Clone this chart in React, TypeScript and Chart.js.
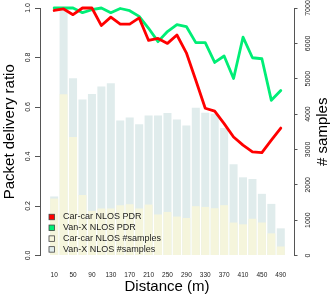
import React, { useEffect, useRef } from "react";
import { Chart, registerables } from "chart.js";

Chart.register(...registerables);

const FONT = '"Liberation Sans", Arial, Helvetica, sans-serif';

const distances = [10, 30, 50, 70, 90, 110, 130, 150, 170, 190, 210, 230, 250, 270, 290, 310, 330, 350, 370, 390, 410, 430, 450, 470, 490];
const carPdr = [0.99, 0.996, 0.973, 1.0, 1.0, 0.929, 0.963, 0.935, 0.935, 0.96, 0.869, 0.877, 0.857, 0.891, 0.819, 0.708, 0.595, 0.583, 0.533, 0.479, 0.446, 0.419, 0.416, 0.466, 0.515];
const vanPdr = [1.0, 1.0, 1.0, 0.981, 0.993, 1.0, 0.981, 0.998, 0.989, 0.966, 0.918, 0.864, 0.905, 0.933, 0.925, 0.86, 0.86, 0.78, 0.806, 0.715, 0.882, 0.799, 0.795, 0.627, 0.667];
const carSamples = [1610, 4560, 3350, 1710, 1260, 1330, 1330, 1420, 1450, 1330, 1440, 1160, 1232, 1101, 1061, 1394, 1374, 1337, 1423, 931, 882, 1039, 933, 626, 256];
const vanSamples = [1670, 6990, 5010, 4410, 4570, 4780, 4870, 3820, 3900, 3710, 3960, 3960, 4030, 3850, 3680, 4180, 4040, 4010, 3606, 2581, 2211, 2163, 1744, 1460, 768];
const xTickValues = [10, 50, 90, 130, 170, 210, 250, 290, 330, 370, 410, 450, 490];
const pdrTicks = [0, 0.2, 0.4, 0.6, 0.8, 1.0];
const sampleTicks = [0, 1000, 2000, 3000, 4000, 5000, 6000, 7000];

const seriesLabels = ["Car-car NLOS PDR", "Van-X NLOS PDR", "Car-car NLOS #samples", "Van-X NLOS #samples"];
const seriesColors = ["#FF0000", "#00EE76", "#F5F5DC", "#E0ECEC"];

const decorations = {
  id: "decorations",
  afterDatasetsDraw(chart: any) {
    const { ctx, chartArea } = chart;
    const yL = chart.scales.y;
    const yR = chart.scales.y2;
    ctx.save();
    // y tick labels (rotated)
    ctx.fillStyle = "#222";
    ctx.font = `7px ${FONT}`;
    ctx.textAlign = "center";
    ctx.textBaseline = "middle";
    for (const v of pdrTicks) {
      const py = yL.getPixelForValue(v);
      ctx.save();
      ctx.translate(chartArea.left - 11.5, py);
      ctx.rotate(-Math.PI / 2);
      ctx.fillText(v.toFixed(1), 0, 0);
      ctx.restore();
    }
    for (const v of sampleTicks) {
      const py = yR.getPixelForValue(v);
      ctx.save();
      ctx.translate(chartArea.right + 14, py);
      ctx.rotate(-Math.PI / 2);
      ctx.fillText(String(v), 0, 0);
      ctx.restore();
    }
    // right title
    ctx.fillStyle = "#000";
    ctx.font = `15px ${FONT}`;
    ctx.save();
    ctx.translate(chartArea.right + 29, (chartArea.top + chartArea.bottom) / 2);
    ctx.rotate(-Math.PI / 2);
    ctx.fillText("# samples", 0, 0);
    ctx.restore();
    // legend
    const rowOffsets = [38.5, 27.7, 16.9, 6.1];
    ctx.font = `9px ${FONT}`;
    ctx.textAlign = "left";
    seriesLabels.forEach((lab, i) => {
      const cy = chartArea.bottom - rowOffsets[i];
      const bx = chartArea.left + 9;
      ctx.fillStyle = seriesColors[i];
      ctx.fillRect(bx, cy - 2.75, 5.5, 5.5);
      ctx.strokeStyle = "#444";
      ctx.lineWidth = 0.8;
      ctx.strokeRect(bx, cy - 2.75, 5.5, 5.5);
      ctx.fillStyle = "#222";
      ctx.fillText(lab, chartArea.left + 23, cy);
    });
    ctx.restore();
  },
};

export default function App() {
  const ref = useRef<HTMLCanvasElement>(null);
  useEffect(() => {
    document.body.style.margin = "0";
    document.body.style.overflow = "hidden";
    const pts = (ys: number[]) => distances.map((d, i) => ({ x: d, y: ys[i] }));
    const chart = new Chart(ref.current as HTMLCanvasElement, {
      type: "bar",
      data: {
        datasets: [
          {
            type: "line",
            label: seriesLabels[0],
            data: pts(carPdr),
            borderColor: seriesColors[0],
            borderWidth: 2.8,
            pointRadius: 0,
            tension: 0,
            yAxisID: "y",
            xAxisID: "x",
            clip: false,
            order: 0,
            borderJoinStyle: "round",
            borderCapStyle: "round",
          } as any,
          {
            type: "line",
            label: seriesLabels[1],
            data: pts(vanPdr),
            borderColor: seriesColors[1],
            borderWidth: 2.8,
            pointRadius: 0,
            tension: 0,
            yAxisID: "y",
            xAxisID: "x",
            clip: false,
            order: 1,
            borderJoinStyle: "round",
            borderCapStyle: "round",
          } as any,
          {
            type: "bar",
            label: seriesLabels[2],
            data: pts(carSamples),
            backgroundColor: seriesColors[2],
            borderWidth: 0,
            yAxisID: "y2",
            xAxisID: "x",
            grouped: false,
            barPercentage: 0.85,
            categoryPercentage: 1,
            clip: false,
            order: 2,
          } as any,
          {
            type: "bar",
            label: seriesLabels[3],
            data: pts(vanSamples),
            backgroundColor: seriesColors[3],
            borderWidth: 0,
            yAxisID: "y2",
            xAxisID: "x",
            grouped: false,
            barPercentage: 0.85,
            categoryPercentage: 1,
            clip: false,
            order: 3,
          } as any,
        ],
      },
      options: {
        responsive: false,
        animation: false,
        devicePixelRatio: 1,
        layout: { padding: { top: 8, left: 0, right: 0, bottom: 0 } },
        plugins: { legend: { display: false }, tooltip: { enabled: false } },
        scales: {
          x: {
            type: "linear",
            min: -20,
            max: 518,
            offset: false,
            afterFit: (s: any) => { s.height = 41.5; },
            afterBuildTicks: (s: any) => { s.ticks = xTickValues.map((v) => ({ value: v })); },
            grid: { display: false, drawTicks: false, offset: false },
            border: { display: false },
            ticks: {
              autoSkip: false,
              maxRotation: 0,
              minRotation: 0,
              padding: 15.6,
              color: "#222",
              font: { size: 6.5, family: FONT },
              callback: (v: any) => String(v),
            },
            title: { display: true, text: "Distance (m)", color: "#000", font: { size: 15, family: FONT }, padding: { top: 0, bottom: 1 } },
          },
          y: {
            type: "linear",
            position: "left",
            min: 0,
            max: 1,
            afterFit: (s: any) => { s.width = 40; },
            afterBuildTicks: (s: any) => { s.ticks = pdrTicks.map((v) => ({ value: v })); },
            grid: { display: true, drawOnChartArea: false, drawTicks: true, tickLength: 5, color: "#555" },
            border: { display: true, color: "#555", width: 1 },
            ticks: { display: false },
            title: { display: true, text: "Packet delivery ratio", color: "#000", font: { size: 15, family: FONT }, padding: { top: 1, bottom: 0 } },
          },
          y2: {
            type: "linear",
            position: "right",
            min: 0,
            max: 7000,
            afterFit: (s: any) => { s.width = 38; },
            afterBuildTicks: (s: any) => { s.ticks = sampleTicks.map((v) => ({ value: v })); },
            grid: { display: true, drawOnChartArea: false, drawTicks: true, tickLength: 3.5, color: "#555" },
            border: { display: true, color: "#555", width: 1 },
            ticks: { display: false },
            title: { display: false },
          },
        },
      } as any,
      plugins: [decorations],
    });
    return () => chart.destroy();
  }, []);
  return (
    <div style={{ width: 332, height: 297 }}>
      <canvas ref={ref} width={332} height={297} style={{ display: "block" }} />
    </div>
  );
}
